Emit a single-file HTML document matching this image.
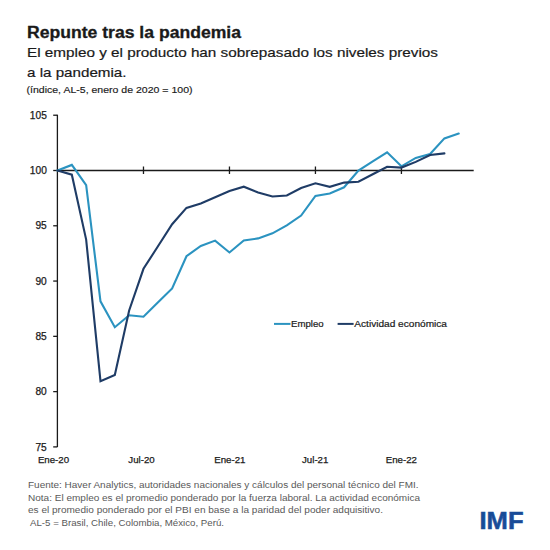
<!DOCTYPE html>
<html><head><meta charset="utf-8"><style>
html,body{margin:0;padding:0;background:#fff;}
svg{display:block;}
text{font-family:"Liberation Sans",sans-serif;}
</style></head><body>
<svg width="550" height="550" viewBox="0 0 550 550">
<rect width="550" height="550" fill="#fff"/>
<text x="27" y="38.2" font-size="16" font-weight="bold" fill="#1a1a1a" stroke="#1a1a1a" stroke-width="0.3" textLength="214" lengthAdjust="spacingAndGlyphs">Repunte tras la pandemia</text>
<text x="27" y="56.9" font-size="13.4" fill="#1a1a1a" stroke="#1a1a1a" stroke-width="0.2" textLength="411" lengthAdjust="spacingAndGlyphs">El empleo y el producto han sobrepasado los niveles previos</text>
<text x="27" y="76.5" font-size="13.4" fill="#1a1a1a" stroke="#1a1a1a" stroke-width="0.2" textLength="99.5" lengthAdjust="spacingAndGlyphs">a la pandemia.</text>
<text x="26.5" y="92.7" font-size="9" fill="#1a1a1a" stroke="#1a1a1a" stroke-width="0.15" textLength="166" lengthAdjust="spacingAndGlyphs">(índice, AL-5, enero de 2020 = 100)</text>
<g stroke="#1a1a1a" stroke-width="1.3" fill="none">
<line x1="57.4" y1="114.8" x2="57.4" y2="447"/>
<line x1="53.2" y1="115.22" x2="57.4" y2="115.22"/><line x1="53.2" y1="170.50" x2="57.4" y2="170.50"/><line x1="53.2" y1="225.78" x2="57.4" y2="225.78"/><line x1="53.2" y1="281.06" x2="57.4" y2="281.06"/><line x1="53.2" y1="336.34" x2="57.4" y2="336.34"/><line x1="53.2" y1="391.62" x2="57.4" y2="391.62"/><line x1="53.2" y1="446.90" x2="57.4" y2="446.90"/>
<line x1="57.4" y1="170.5" x2="473.7" y2="170.5"/>
<line x1="143.48" y1="166.5" x2="143.48" y2="174"/><line x1="229.46" y1="166.5" x2="229.46" y2="174"/><line x1="315.44" y1="166.5" x2="315.44" y2="174"/><line x1="401.42" y1="166.5" x2="401.42" y2="174"/>
</g>
<g font-size="10.2" fill="#1a1a1a" stroke="#1a1a1a" stroke-width="0.25">
<text x="46.8" y="118.82" text-anchor="end">105</text><text x="46.8" y="174.10" text-anchor="end">100</text><text x="46.8" y="229.38" text-anchor="end">95</text><text x="46.8" y="284.66" text-anchor="end">90</text><text x="46.8" y="339.94" text-anchor="end">85</text><text x="46.8" y="395.22" text-anchor="end">80</text><text x="46.8" y="450.50" text-anchor="end">75</text>
<text x="53.5" y="463" text-anchor="middle" font-size="9.7">Ene-20</text><text x="141.5" y="463" text-anchor="middle" font-size="9.7">Jul-20</text><text x="229.8" y="463" text-anchor="middle" font-size="9.7">Ene-21</text><text x="315.2" y="463" text-anchor="middle" font-size="9.7">Jul-21</text><text x="401.3" y="463" text-anchor="middle" font-size="9.7">Ene-22</text>
</g>
<polyline points="57.50,170.50 71.83,164.90 86.16,185.10 100.49,301.30 114.82,327.20 129.15,315.30 143.48,316.70 157.81,302.50 172.14,288.40 186.47,256.20 200.80,246.00 215.13,240.60 229.46,252.50 243.79,240.50 258.12,238.40 272.45,233.30 286.78,225.30 301.11,215.60 315.44,196.00 329.77,193.50 344.10,187.30 358.43,170.50 372.76,161.40 387.09,152.30 401.42,166.30 415.75,157.90 430.08,154.00 444.41,138.40 458.74,133.60" fill="none" stroke="#2b93c0" stroke-width="2.1" stroke-linejoin="miter" stroke-linecap="round"/>
<polyline points="57.50,170.50 71.83,174.70 86.16,239.60 100.49,381.20 114.82,374.90 129.15,310.50 143.48,268.80 157.81,246.50 172.14,224.20 186.47,207.90 200.80,203.40 215.13,197.20 229.46,191.10 243.79,186.70 258.12,192.50 272.45,196.50 286.78,195.50 301.11,188.00 315.44,183.30 329.77,186.80 344.10,182.60 358.43,181.80 372.76,174.30 387.09,166.80 401.42,167.60 415.75,161.90 430.08,155.00 444.41,153.40" fill="none" stroke="#1f3c66" stroke-width="2.1" stroke-linejoin="miter" stroke-linecap="round"/>
<line x1="274" y1="323.9" x2="290.5" y2="323.9" stroke="#2b93c0" stroke-width="2"/>
<line x1="337.6" y1="323.9" x2="353.6" y2="323.9" stroke="#1f3c66" stroke-width="2"/>
<g font-size="9.6" fill="#1a1a1a" stroke="#1a1a1a" stroke-width="0.2">
<text x="291" y="327" textLength="32.6" lengthAdjust="spacingAndGlyphs">Empleo</text>
<text x="354.3" y="327" textLength="92.7" lengthAdjust="spacingAndGlyphs">Actividad económica</text>
</g>
<g font-size="9.2" fill="#595959">
<text x="28" y="488.1" textLength="390.5" lengthAdjust="spacingAndGlyphs">Fuente: Haver Analytics, autoridades nacionales y cálculos del personal técnico del FMI.</text>
<text x="28" y="500.5" textLength="392" lengthAdjust="spacingAndGlyphs">Nota: El empleo es el promedio ponderado por la fuerza laboral. La actividad económica</text>
<text x="28" y="512.9" textLength="355" lengthAdjust="spacingAndGlyphs">es el promedio ponderado por el PBI en base a la paridad del poder adquisitivo.</text>
<text x="30" y="525.9" textLength="194" lengthAdjust="spacingAndGlyphs">AL-5 = Brasil, Chile, Colombia, México, Perú.</text>
</g>
<text x="479.5" y="529" font-size="23" font-weight="bold" fill="#184c98" stroke="#184c98" stroke-width="0.5" textLength="44" lengthAdjust="spacingAndGlyphs">IMF</text>
</svg>
</body></html>
